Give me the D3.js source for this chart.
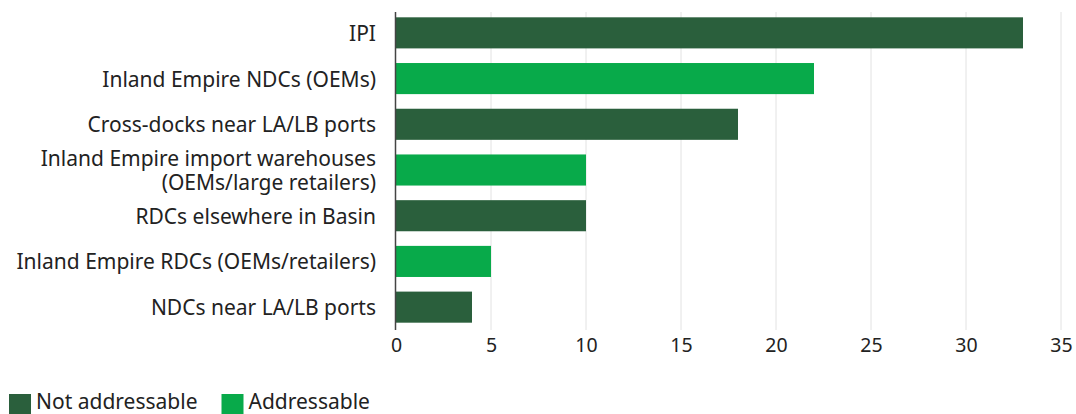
<!DOCTYPE html>
<html>
<head>
<meta charset="utf-8">
<script src="https://cdn.jsdelivr.net/npm/d3@7"></script>
<style>
  html, body { margin: 0; padding: 0; background: #fff; }
  svg text { font-family: "Noto Sans", "Open Sans", sans-serif; fill: #222; }
</style>
</head>
<body>
<svg id="chart" width="1076" height="414"></svg>
<script>
// Facility types (label lines) and their values
const categories = [
  ["IPI"],
  ["Inland Empire NDCs (OEMs)"],
  ["Cross-docks near LA/LB ports"],
  ["Inland Empire import warehouses", "(OEMs/large retailers)"],
  ["RDCs elsewhere in Basin"],
  ["Inland Empire RDCs (OEMs/retailers)"],
  ["NDCs near LA/LB ports"]
];
const values = [33, 22, 18, 10, 10, 5, 4];
const groups = ["Not addressable", "Addressable", "Not addressable", "Addressable", "Not addressable", "Addressable", "Not addressable"];
const legendItems = ["Not addressable", "Addressable"];
const xTicks = [0, 5, 10, 15, 20, 25, 30, 35];

const colors = { "Not addressable": "#2a5f3c", "Addressable": "#08aa4a" };

const svg = d3.select("#chart");
const plotLeft = 396, plotRight = 1061, plotTop = 10, plotBottom = 330;

const x = d3.scaleLinear().domain([0, 35]).range([plotLeft, plotRight]);
const y = d3.scaleBand()
  .domain(d3.range(categories.length))
  .range([plotTop, plotBottom])
  .paddingInner(0.32)
  .paddingOuter(0.16);

// vertical gridlines
svg.append("g")
  .selectAll("line")
  .data(xTicks.slice(1))
  .join("line")
  .attr("x1", d => x(d)).attr("x2", d => x(d))
  .attr("y1", 12).attr("y2", plotBottom)
  .attr("stroke", "#e2e2e2").attr("stroke-width", 1);

// bars
svg.append("g")
  .selectAll("rect")
  .data(values)
  .join("rect")
  .attr("x", x(0))
  .attr("y", (d, i) => y(i))
  .attr("width", d => x(d) - x(0))
  .attr("height", y.bandwidth())
  .attr("fill", (d, i) => colors[groups[i]]);

// category axis line
svg.append("line")
  .attr("x1", x(0) - 0.5).attr("x2", x(0) - 0.5)
  .attr("y1", 12).attr("y2", plotBottom)
  .attr("stroke", "#444").attr("stroke-width", 1.5);

// x axis tick labels
const xAxis = d3.axisBottom(x).tickValues(xTicks).tickSize(0).tickPadding(8);
const gx = svg.append("g").attr("transform", `translate(0,${plotBottom})`).call(xAxis);
gx.select(".domain").remove();
gx.selectAll("text")
  .style("font-family", "'Noto Sans', 'Open Sans', sans-serif")
  .style("font-size", "19.5px")
  .attr("fill", "#222");

// category labels
const labelG = svg.append("g");
categories.forEach((lines, i) => {
  const cy = y(i) + y.bandwidth() / 2;
  const lh = 24;
  const t = labelG.append("text")
    .attr("text-anchor", "end")
    .attr("font-size", "21px")
    .attr("x", 376)
    .attr("y", cy - (lines.length - 1) * lh / 2)
    .attr("dominant-baseline", "central");
  lines.forEach((ln, j) => {
    t.append("tspan")
      .attr("x", 376)
      .attr("dy", j === 0 ? 0 : lh)
      .text(ln);
  });
});

// legend
const legend = svg.append("g");
let lx = 9;
legendItems.forEach(name => {
  legend.append("rect")
    .attr("x", lx).attr("y", 394)
    .attr("width", 22).attr("height", 20)
    .attr("fill", colors[name]);
  const t = legend.append("text")
    .attr("x", lx + 27).attr("y", 409)
    .attr("font-size", "21px")
    .text(name);
  lx += 27 + t.node().getComputedTextLength() + 24;
});
</script>
</body>
</html>
